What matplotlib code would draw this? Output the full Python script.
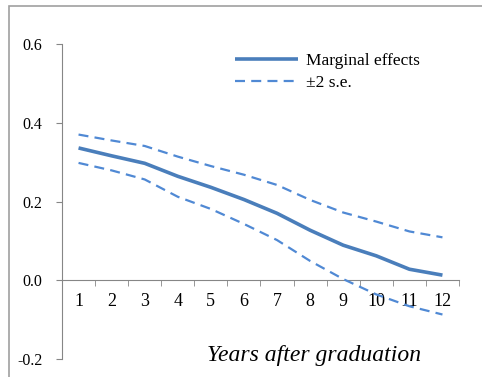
import matplotlib
matplotlib.use('Agg')
import matplotlib.pyplot as plt
from matplotlib.patches import Rectangle
from matplotlib.ticker import FixedLocator

plt.rcParams['font.family'] = ['Liberation Serif', 'DejaVu Serif']

# Data
years = [1, 2, 3, 4, 5, 6, 7, 8, 9, 10, 11, 12]
marginal = [0.336, 0.316, 0.297, 0.264, 0.236, 0.205, 0.170, 0.127, 0.089, 0.062, 0.028, 0.013]
upper = [0.370, 0.355, 0.341, 0.314, 0.290, 0.268, 0.242, 0.204, 0.172, 0.149, 0.124, 0.109]
lower = [0.298, 0.279, 0.256, 0.212, 0.181, 0.143, 0.102, 0.049, 0.003, -0.036, -0.066, -0.087]
y_ticks = [-0.2, 0.0, 0.2, 0.4, 0.6]

W, H = 482, 377
fig = plt.figure(figsize=(W / 100, H / 100), dpi=100)
ax = fig.add_axes([62 / W, 1 - 359 / H, (459 - 62) / W, (359 - 44) / H])

blue = '#4a7ebb'
dash_blue = '#5089d4'
ax.plot(years, marginal, color=blue, lw=2.6, label='Marginal effects', zorder=4,
        solid_capstyle='butt')
ax.plot(years, upper, color=dash_blue, lw=1.6, ls=(0, (4.5, 2.8)), label='\u00b12 s.e.', zorder=4)
ax.plot(years, lower, color=dash_blue, lw=1.6, ls=(0, (4.5, 2.8)), zorder=4)

ax.set_xlim(0.5, 12.5)
ax.set_ylim(-0.2, 0.6)

gray = '#868686'
for s in ['top', 'right']:
    ax.spines[s].set_visible(False)
ax.spines['bottom'].set_position(('data', 0))
ax.spines['left'].set_color(gray)
ax.spines['bottom'].set_color(gray)

ax.set_yticks(y_ticks)
ax.set_yticklabels(['%.1f' % v for v in y_ticks])
ax.tick_params(axis='y', direction='out', length=4, color=gray, pad=10, labelsize=11.5)

ax.set_xticks(years)
ax.set_xticklabels([str(y) for y in years])
ax.xaxis.set_minor_locator(FixedLocator([y - 0.5 for y in years] + [12.5]))
ax.tick_params(axis='x', which='major', length=0, pad=9, labelsize=13)
ax.tick_params(axis='x', which='minor', direction='out', length=4, color=gray)

ax.legend(loc='upper left', bbox_to_anchor=(0.415, 1.0), frameon=False, fontsize=12.5,
          handlelength=3.6, handletextpad=0.45, labelspacing=0.35, borderaxespad=0.1)

fig.text(314 / W, 1 - 355 / H, 'Years after graduation', style='italic', fontsize=17,
         ha='center', va='center')

# outer chart frame
fig.add_artist(Rectangle((9 / W, -0.1), 1.2, 1 - 6 / H + 0.1, transform=fig.transFigure,
                         fill=False, edgecolor='#a0a0a0', lw=1.2))

fig.savefig('out.png', dpi=100)
